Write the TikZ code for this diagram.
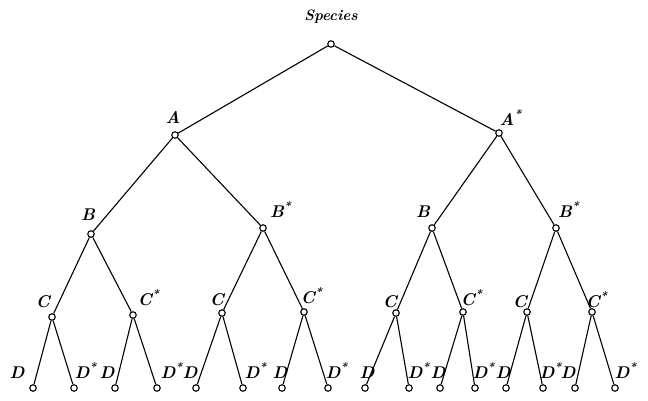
\documentclass[tikz,border=0pt]{standalone}
\usepackage{fontspec}
\begin{document}
\begin{tikzpicture}[x=1pt,y=-1pt,
  dot/.style={circle,draw,line width=1.1pt,inner sep=0pt,minimum size=6.5pt,fill=white},
  edge/.style={line width=1.1pt},
  lbl/.style={inner sep=0pt,anchor=base,font=\fontsize{17}{17}\selectfont\bfseries\itshape}]
\useasboundingbox (0,0) rectangle (648,400);
\newcommand{\starred}[1]{#1\rlap{\textsuperscript{*}}}
\node[lbl,font=\fontsize{15}{15}\selectfont\bfseries\itshape] (sp) at (331,20) {Species};
% nodes
\node[dot] (R) at (331,44) {};
\node[dot] (A) at (175,135) {};
\node[dot] (As) at (499,133) {};
\node[dot] (B1) at (91,234) {};
\node[dot] (B1s) at (263,228) {};
\node[dot] (B2) at (432,228) {};
\node[dot] (B2s) at (556,228) {};
\foreach \n/\x/\y in {C1/52/317,C2/133/315,C3/222/313,C4/304/312,C5/396/313,C6/463/312,C7/527/312,C8/592/312}
  \node[dot] (\n) at (\x,\y) {};
\foreach \n/\x in {D1/33,D1s/74,D2/115,D2s/157,D3/196,D3s/243,D4/282,D4s/328,D5/365,D5s/409,D6/440,D6s/475,D7/506,D7s/543,D8/575,D8s/615}
  \node[dot] (\n) at (\x,388) {};
% edges
\draw[edge] (R) -- (A);
\draw[edge] (R) -- (As);
\draw[edge] (A) -- (B1);
\draw[edge] (A) -- (B1s);
\draw[edge] (As) -- (B2);
\draw[edge] (As) -- (B2s);
\draw[edge] (B1) -- (C1);
\draw[edge] (B1) -- (C2);
\draw[edge] (B1s) -- (C3);
\draw[edge] (B1s) -- (C4);
\draw[edge] (B2) -- (C5);
\draw[edge] (B2) -- (C6);
\draw[edge] (B2s) -- (C7);
\draw[edge] (B2s) -- (C8);
\foreach \c in {1,2,3,4,5,6,7,8}{
  \draw[edge] (C\c) -- (D\c);
  \draw[edge] (C\c) -- (D\c s);
}
% labels
\node[lbl] (lA) at ([shift={(-2,-12)}]A) {A};
\node[lbl] (lAs) at ([shift={(8,-8)}]As) {\starred{A}};
\node[lbl] (lB1) at ([shift={(-3,-14)}]B1) {B};
\node[lbl] (lB1s) at ([shift={(14,-11)}]B1s) {\starred{B}};
\node[lbl] (lB2) at ([shift={(-9,-11)}]B2) {B};
\node[lbl] (lB2s) at ([shift={(9,-11)}]B2s) {\starred{B}};
\foreach \c/\dx/\dy in {C1/-9/-10,C3/-5/-8,C5/-6/-6,C7/-7/-5}
  \node[lbl] (l\c) at ([shift={(\dx,\dy)}]\c) {C};
\foreach \c/\dx/\dy in {C2/12/-10,C4/4/-9,C6/5/-7,C8/1/-5}
  \node[lbl] (l\c) at ([shift={(\dx,\dy)}]\c) {\starred{C}};
\foreach \d/\dx in {D1/-16,D2/-8,D3/-6,D4/-2,D5/2,D6/-2,D7/-3,D8/-7}
  \node[lbl] (l\d) at ([shift={(\dx,-10)}]\d) {D};
\foreach \d/\dx in {D1s/8,D2s/11,D3s/9,D4s/5,D5s/6,D6s/5,D7s/4,D8s/7}
  \node[lbl] (l\d) at ([shift={(\dx,-10)}]\d) {\starred{D}};
\end{tikzpicture}
\end{document}
